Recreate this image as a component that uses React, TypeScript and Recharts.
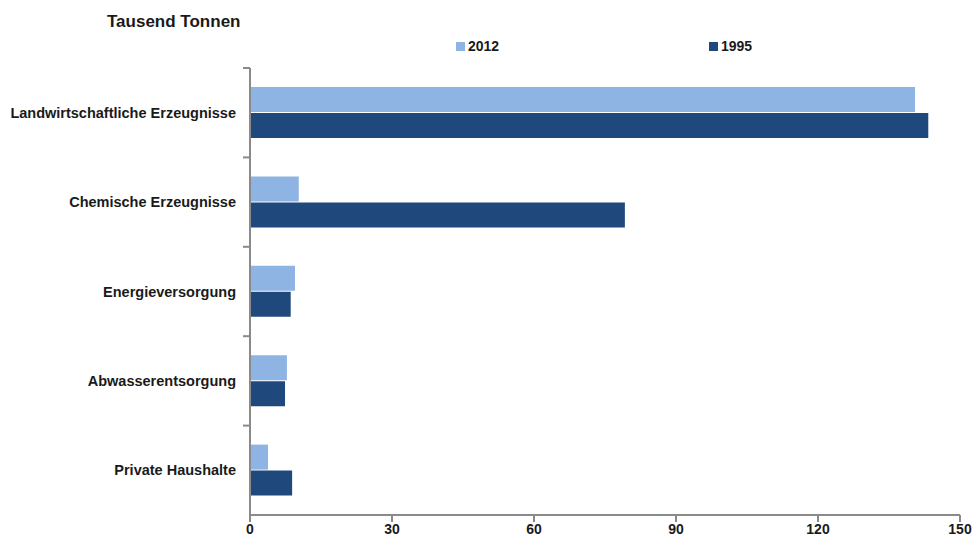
import { BarChart, Bar, XAxis, YAxis } from "recharts";

const categories = [
  "Landwirtschaftliche Erzeugnisse",
  "Chemische Erzeugnisse",
  "Energieversorgung",
  "Abwasserentsorgung",
  "Private Haushalte",
];
const values2012 = [140.5, 10.3, 9.5, 7.8, 3.8];
const values1995 = [143.3, 79.2, 8.6, 7.4, 8.9];
const xTicks = [0, 30, 60, 90, 120, 150];

const data = categories.map((name, i) => ({
  name,
  y2012: values2012[i],
  y1995: values1995[i],
}));

const FONT = "'Liberation Sans', Arial, sans-serif";
const AXIS = "#8a8a8a";

const CategoryTick = (props: any) => {
  const { x, y, payload } = props;
  const half = payload?.offset ?? 44.7;
  return (
    <g>
      <line x1={x + 1} x2={x + 8} y1={y - half} y2={y - half} stroke={AXIS} strokeWidth={2} />
      <text
        x={x - 6}
        y={y}
        dy={5}
        textAnchor="end"
        fontSize={14.5}
        fontWeight={600}
        fill="#1a1a1a"
        fontFamily={FONT}
      >
        {payload.value}
      </text>
    </g>
  );
};

const legendItems = [
  { label: "2012", color: "#8EB4E3", left: 456 },
  { label: "1995", color: "#1F497D", left: 709 },
];

export default function App() {
  return (
    <div style={{ position: "absolute", left: 0, top: 0, width: 975, height: 543, background: "#fff" }}>
      <div
        style={{
          position: "absolute",
          left: 107,
          top: 12,
          fontFamily: FONT,
          fontSize: 17,
          fontWeight: 600,
          color: "#1a1a1a",
        }}
      >
        Tausend Tonnen
      </div>
      {legendItems.map((it) => (
        <div
          key={it.label}
          style={{
            position: "absolute",
            left: it.left,
            top: 38,
            display: "flex",
            alignItems: "center",
            fontFamily: FONT,
            fontSize: 14,
            fontWeight: 700,
            color: "#1a1a1a",
          }}
        >
          <span style={{ width: 9, height: 9, background: it.color, marginRight: 3 }} />
          {it.label}
        </div>
      ))}
      <BarChart
        width={975}
        height={543}
        data={data}
        layout="vertical"
        margin={{ top: 68, right: 15, bottom: 0, left: 0 }}
        barSize={25}
        barGap={1}
      >
        <XAxis
          type="number"
          domain={[0, 150]}
          ticks={xTicks}
          height={28}
          stroke={AXIS}
          strokeWidth={2}
          tickSize={7}
          tick={{ fill: "#1a1a1a", fontSize: 14, fontWeight: 600, fontFamily: FONT }}
        />
        <YAxis
          type="category"
          dataKey="name"
          width={250}
          stroke={AXIS}
          strokeWidth={2}
          tickLine={false}
          tick={<CategoryTick />}
        />
        <Bar dataKey="y2012" fill="#8EB4E3" isAnimationActive={false} />
        <Bar dataKey="y1995" fill="#1F497D" isAnimationActive={false} />
      </BarChart>
    </div>
  );
}
